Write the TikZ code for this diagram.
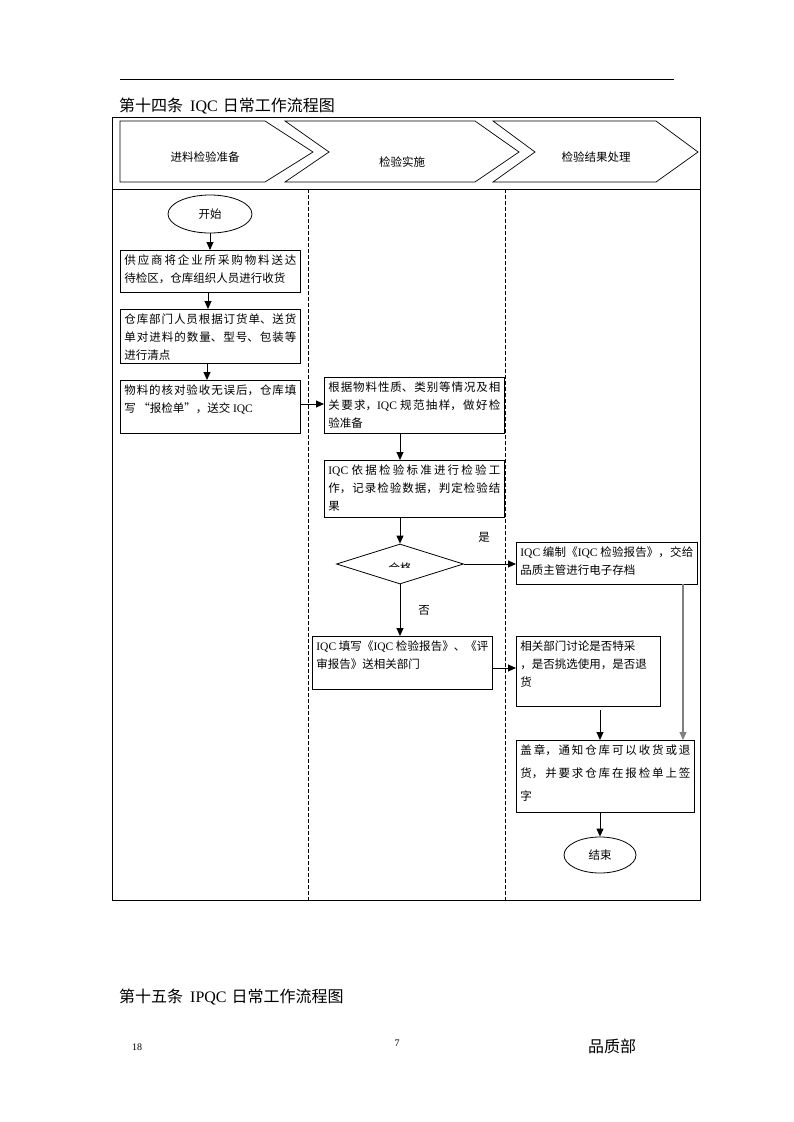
\documentclass[tikz,border=0pt]{standalone}
\usepackage{fontspec}
\setmainfont{Noto Sans CJK SC}
\newfontfamily\lat{Liberation Serif}
\usetikzlibrary{shapes.geometric,arrows.meta}
\XeTeXlinebreaklocale "zh"
\XeTeXlinebreakskip=0pt plus 3pt
\newcommand{\bt}[3]{\parbox[c][#2][t]{#1}{\fontsize{11.5}{18}\selectfont\XeTeXlinebreaklocale "zh"\XeTeXlinebreakskip=0pt plus 3pt\relax #3}}
\tikzset{
  box/.style={draw, line width=0.8pt, anchor=north west, inner sep=4pt},
  term/.style={draw, ellipse, line width=0.8pt, inner sep=0pt, font=\fontsize{11.5}{14}\selectfont},
  arr/.style={line width=0.9pt, -{Triangle[length=8pt,width=7pt]}},
  garr/.style={line width=1.2pt, draw=gray, -{Triangle[length=8pt,width=7pt]}},
  chev/.style={draw, line width=0.7pt},
  lane/.style={line width=0.8pt, dash pattern=on 4pt off 2pt},
  lbl/.style={font=\fontsize{11.5}{14}\selectfont, inner sep=0pt}
}
\begin{document}
\begin{tikzpicture}[x=1pt,y=-1pt]
\useasboundingbox (0,0) rectangle (793,1122);
% top rule and title
\draw[line width=0.8pt] (120,79) -- (674,79);
\node[anchor=west, inner sep=0pt, font=\fontsize{16}{18}\selectfont] (title) at (119,106) {第十四条\hspace{7pt}{\lat IQC}\hspace{5pt}日常工作流程图};
% frame
\draw[line width=0.9pt] (112,117) rectangle (700,900);
\draw[line width=0.9pt] (112,189) -- (700,189);
% chevrons
\draw[chev] (120,121) -- (265,121) -- (313,152) -- (265,182) -- (120,182) -- cycle;
\draw[chev] (285,121) -- (475,121) -- (519,152) -- (475,182) -- (285,182) -- (329,152) -- cycle;
\draw[chev] (493,121) -- (656,121) -- (698,152) -- (656,182) -- (493,182) -- (535,152) -- cycle;
\node[lbl] (h1) at (205,157) {进料检验准备};
\node[lbl] (h2) at (402,162) {检验实施};
\node[lbl] (h3) at (596,157) {检验结果处理};
% lanes
\draw[lane] (308,189) -- (308,900);
\draw[lane] (505,189) -- (505,900);
% nodes
\node[term, minimum width=84, minimum height=38] (start) at (210,214) {开始};
\node[box] (b1) at (120,250) {\bt{172pt}{34pt}{供应商将企业所采购物料送达\linebreak 待检区，仓库组织人员进行收货}};
\node[box] (b2) at (120,309) {\bt{172pt}{46pt}{仓库部门人员根据订货单、送货\linebreak 单对进料的数量、型号、包装等\linebreak 进行清点}};
\node[box] (b3) at (120,380) {\bt{172pt}{45pt}{物料的核对验收无误后，仓库填\linebreak 写 “报检单”，送交 {\lat IQC}}};
\node[box] (b4) at (324,377) {\bt{172pt}{48pt}{根据物料性质、类别等情况及相\linebreak 关要求，{\lat IQC} 规范抽样，做好检\linebreak 验准备}};
\node[box] (b5) at (324,460) {\bt{172pt}{49pt}{{\lat IQC} 依据检验标准进行检验工\linebreak 作，记录检验数据，判定检验结\linebreak 果}};
\node[draw, diamond, line width=0.8pt, inner sep=0pt, minimum width=127, minimum height=40] (d) at (400,564) {};
\begin{scope}
\clip (340,552) rectangle (460,567.5);
\node[lbl] (dl) at (400,568) {合格};
\end{scope}
\node[box] (b6) at (516,542) {\bt{173pt}{34pt}{{\lat IQC} 编制《{\lat IQC} 检验报告》，交给\linebreak 品质主管进行电子存档}};
\node[box] (b7) at (312,636) {\bt{172pt}{45pt}{{\lat IQC} 填写《{\lat IQC} 检验报告》、《评\linebreak 审报告》送相关部门}};
\node[box] (b8) at (516,636) {\bt{136pt}{62pt}{相关部门讨论是否特采\\，是否挑选使用，是否退\\货}};
\node[box] (b9) at (516,740) {\bt{170pt}{64pt}{\baselineskip=23pt 盖章，通知仓库可以收货或退\linebreak 货，并要求仓库在报检单上签\linebreak 字}};
\node[term, minimum width=72, minimum height=36] (end) at (600,855) {结束};
% labels
\node[lbl] (yes) at (484,537) {是};
\node[lbl] (no) at (424,610) {否};
% connectors
\draw[arr] (start.south) -- (start.south |- b1.north);
\draw[arr] (208,292) -- (208,309);
\draw[arr] (207,363) -- (207,380);
\draw[arr] (b3.east |- 0,404) -- (b4.west |- 0,404);
\draw[arr] (400,433) -- (400,460);
\draw[arr] (400,517) -- (d.north);
\draw[arr] (d.east) -- (b6.west |- d.east);
\draw[arr] (d.south) -- (400,636);
\draw[arr] (b7.east |- 0,668) -- (b8.west |- 0,668);
\coordinate (b8s) at (600,710);
\draw[arr] (b8s) -- (600,740);
\draw[garr] (683,584) -- (683,740);
\draw[arr] (600,812) -- (end.north);
% footer
\node[anchor=west, inner sep=0pt, font=\fontsize{16}{18}\selectfont] (title2) at (119,997) {第十五条\hspace{7pt}{\lat IPQC}\hspace{5pt}日常工作流程图};
\node[inner sep=0pt, font=\lat\fontsize{10}{12}\selectfont] (pg18) at (137,1047) {18};
\node[inner sep=0pt, font=\lat\fontsize{10}{12}\selectfont] (pg7) at (397,1043) {7};
\node[inner sep=0pt, font=\fontsize{16}{18}\selectfont] (dept) at (612,1046) {品质部};
\end{tikzpicture}
\end{document}
